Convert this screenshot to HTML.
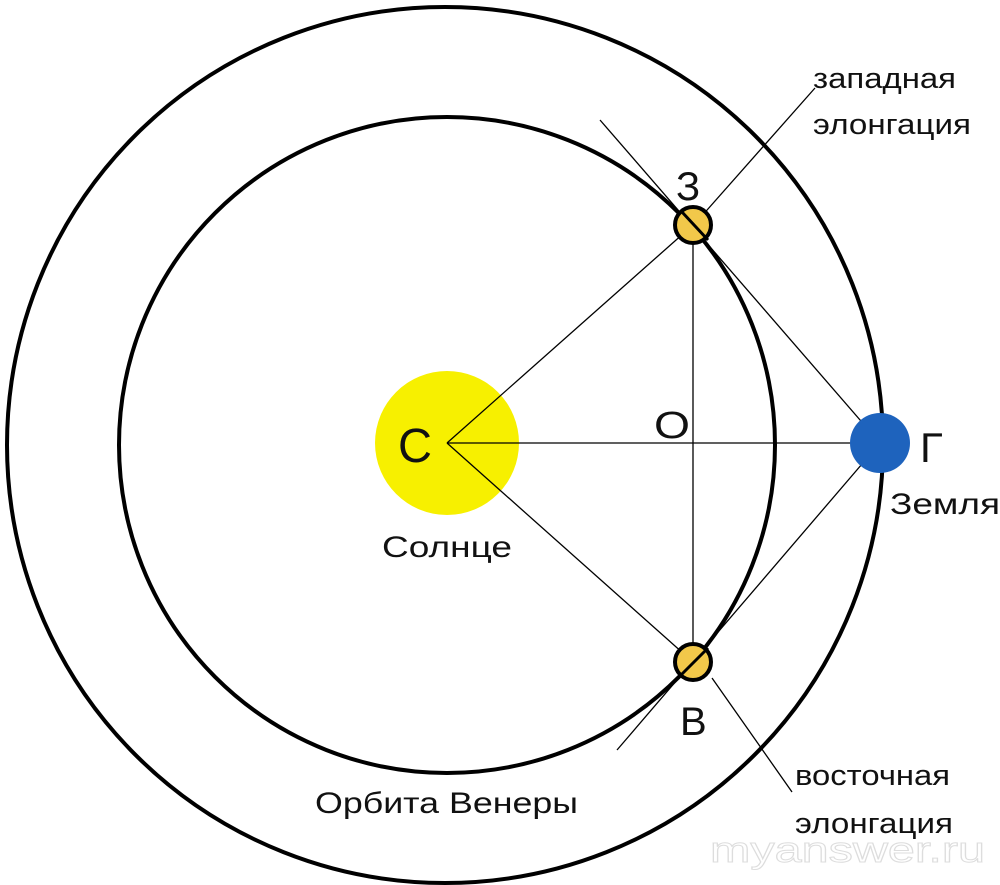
<!DOCTYPE html>
<html><head><meta charset="utf-8"><style>body{margin:0;background:#fff}svg{display:block}</style></head>
<body>
<svg width="1000" height="885" viewBox="0 0 1000 885" xmlns="http://www.w3.org/2000/svg" font-family="Liberation Sans, DejaVu Sans, sans-serif">
<rect width="1000" height="885" fill="#fff"/>
<circle cx="445" cy="445" r="438" fill="none" stroke="#000" stroke-width="4"/>
<circle cx="447" cy="445" r="328" fill="none" stroke="#000" stroke-width="4"/>
<circle cx="447" cy="443" r="72" fill="#f7f000"/>
<g stroke="#000" stroke-width="1.3">
<line x1="447" y1="443" x2="880" y2="443"/>
<line x1="447" y1="443" x2="693" y2="225"/>
<line x1="447" y1="443" x2="693" y2="662"/>
<line x1="693" y1="225" x2="693" y2="662"/>
<line x1="600" y1="120" x2="880" y2="443"/>
<line x1="617" y1="750" x2="880" y2="443"/>
<line x1="700" y1="218" x2="815" y2="88"/>
<line x1="712" y1="678" x2="792" y2="792"/>
</g>
<circle cx="693" cy="225" r="18" fill="#f2c84a" stroke="#000" stroke-width="4"/>
<circle cx="693" cy="662" r="18" fill="#f2c84a" stroke="#000" stroke-width="4"/>
<line x1="682" y1="212" x2="708" y2="240" stroke="#000" stroke-width="3"/>
<line x1="680" y1="676" x2="708" y2="648" stroke="#000" stroke-width="3"/>
<circle cx="880" cy="443" r="30" fill="#1e63bd"/>
<g fill="#111">
<text x="398" y="462" font-size="48" textLength="34" lengthAdjust="spacingAndGlyphs">С</text>
<text x="654" y="438" font-size="38" textLength="36" lengthAdjust="spacingAndGlyphs">О</text>
<text x="920" y="462" font-size="42">Г</text>
<text x="676" y="200" font-size="40">З</text>
<text x="680" y="735" font-size="40">В</text>
<text x="382" y="557" font-size="30" textLength="130" lengthAdjust="spacingAndGlyphs">Солнце</text>
<text x="890" y="514" font-size="30" textLength="110" lengthAdjust="spacingAndGlyphs">Земля</text>
<text x="315" y="813" font-size="30" textLength="263" lengthAdjust="spacingAndGlyphs">Орбита Венеры</text>
<text x="813" y="88" font-size="29" textLength="143" lengthAdjust="spacingAndGlyphs">западная</text>
<text x="813" y="134" font-size="29" textLength="158" lengthAdjust="spacingAndGlyphs">элонгация</text>
<text x="795" y="785" font-size="29" textLength="155" lengthAdjust="spacingAndGlyphs">восточная</text>
<text x="795" y="833" font-size="29" textLength="158" lengthAdjust="spacingAndGlyphs">элонгация</text>
</g>
<text x="710" y="862" font-size="36" fill="#fff" stroke="#ddd" stroke-width="1" textLength="275" lengthAdjust="spacingAndGlyphs">myanswer.ru</text>
</svg>
</body></html>
